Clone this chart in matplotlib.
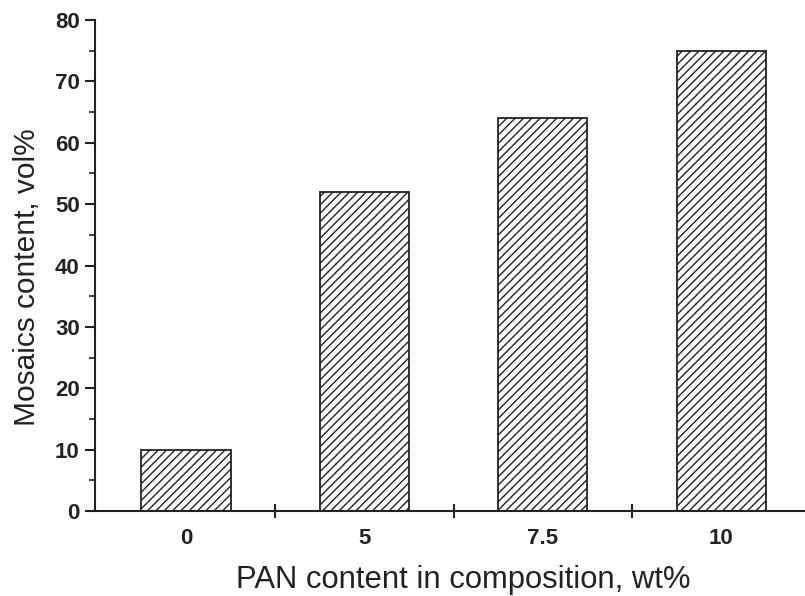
import numpy as np
import matplotlib.pyplot as plt
from matplotlib.ticker import MultipleLocator, FixedLocator, NullFormatter

plt.rcParams['font.family'] = ['Liberation Sans', 'DejaVu Sans']
plt.rcParams['hatch.linewidth'] = 1.0

pan_labels = ["0", "5", "7.5", "10"]
mosaics_vol = [10, 52, 64, 75]

fig = plt.figure(figsize=(8.05, 5.96), dpi=100)
ax = fig.add_axes([95 / 805, 1 - 511 / 596, 1 - 95 / 805, (511 - 20) / 596])

pos = np.arange(len(pan_labels))
ax.bar(pos, mosaics_vol, width=0.5, color="white", edgecolor="#222222",
       linewidth=1.3, hatch="////")

ax.set_xlim(-0.51, 3.47)
ax.set_ylim(0, 80)

for side in ["top", "right"]:
    ax.spines[side].set_visible(False)
for side in ["left", "bottom"]:
    ax.spines[side].set_linewidth(1.5)
    ax.spines[side].set_color("#222222")

# category labels sit under the bars, ticks mark the boundaries between them
ax.xaxis.set_major_locator(FixedLocator(pos + 0.5))
ax.xaxis.set_major_formatter(NullFormatter())
ax.xaxis.set_minor_locator(FixedLocator(pos))
ax.set_xticklabels(pan_labels, minor=True)
ax.tick_params(axis="x", which="major", direction="inout", length=10, width=1.5, color="#222222")
ax.tick_params(axis="x", which="minor", length=0, pad=12, labelsize=16, labelcolor="#222222")
for lbl in ax.get_xticklabels(minor=True):
    lbl.set_fontweight("bold")

ax.yaxis.set_major_locator(MultipleLocator(10))
ax.yaxis.set_minor_locator(MultipleLocator(5))
ax.tick_params(axis="y", which="major", direction="out", length=7, width=1.5,
               color="#222222", labelsize=16, labelcolor="#222222", pad=4)
ax.tick_params(axis="y", which="minor", direction="out", length=4, width=1.2, color="#222222")
for lbl in ax.get_yticklabels():
    lbl.set_fontweight("bold")

ax.set_xlabel("PAN content in composition, wt%", fontsize=22.3, color="#222222", labelpad=12)
ax.set_ylabel("Mosaics content, vol%", fontsize=21.5, color="#222222", labelpad=10)
ax.xaxis.label.set_x(0.518)
ax.yaxis.label.set_y(0.477)

plt.savefig("out.png", dpi=100)
plt.close()
